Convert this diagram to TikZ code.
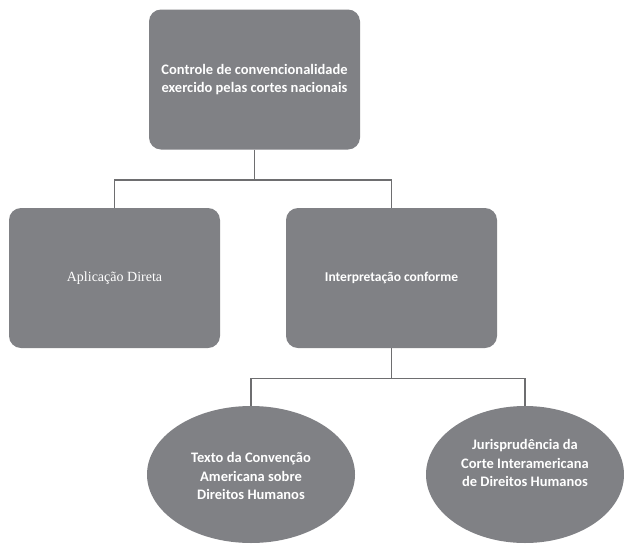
\documentclass[tikz,border=0pt]{standalone}
\usepackage{fontspec}
\setmainfont{Carlito}
\newfontfamily\serifbox{Liberation Serif}
\usetikzlibrary{shapes.geometric}
\definecolor{boxgray}{RGB}{128,129,133}
\definecolor{linegray}{RGB}{110,110,112}
\tikzset{
  rbox/.style={draw=none, fill=boxgray, rounded corners=12pt, minimum width=211pt, minimum height=140pt, inner sep=0pt, text=white, align=center},
  ell/.style={ellipse, draw=none, fill=boxgray, inner sep=0pt, text=white, align=center},
  txt/.style={text=white, align=center, inner sep=0pt},
  conn/.style={draw=linegray, line width=1.8pt},
  lbl/.style={font=\bfseries\fontsize{14.5}{18.5}\selectfont}
}
\begin{document}
\begin{tikzpicture}[x=1pt,y=-1pt]
\useasboundingbox (0,0) rectangle (624,544);
\fill[white] (0,0) rectangle (624,544);
\node[rbox, lbl] (top) at (254.5,79.5) {Controle de convencionalidade\\exercido pelas cortes nacionais};
\node[rbox] (left) at (114.5,278) {\serifbox\fontsize{14}{18}\selectfont Aplicação Direta};
\node[rbox, font=\bfseries\fontsize{13.5}{18}\selectfont] (right) at (391.5,278) {Interpretação conforme};
\node[ell, minimum width=208pt, minimum height=137pt] (e1) at (251,474.5) {};
\node[ell, minimum width=198pt, minimum height=137pt] (e2) at (525,474.5) {};
\node[txt, lbl] (e1t) at (251,476) {Texto da Convenção\\Americana sobre\\Direitos Humanos};
\node[txt, lbl] (e2t) at (525,463) {Jurisprudência da\\Corte Interamericana\\de Direitos Humanos};
\coordinate (j1) at (254.5,180);
\coordinate (j2) at (391.5,378.5);
\draw[conn] (top.south) -- (j1) -| (left.north);
\draw[conn] (j1) -| (right.north);
\draw[conn] (right.south) -- (j2) -| (e1.north);
\draw[conn] (j2) -| (e2.north);
\end{tikzpicture}
\end{document}
